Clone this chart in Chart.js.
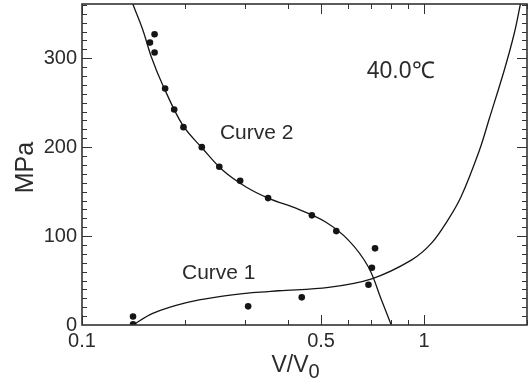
<!DOCTYPE html>
<html>
<head>
<meta charset="utf-8">
<script src="https://cdn.jsdelivr.net/npm/chart.js@4.4.1/dist/chart.umd.min.js"></script>
<style>
  html, body { margin: 0; padding: 0; background: #fff; }
  #wrap { width: 531px; height: 381px; }
</style>
</head>
<body>
<div id="wrap"><canvas id="chart"></canvas></div>
<script>
// Axis tick labels
const xTickValues = [0.1, 0.5, 1];
const yTickValues = [0, 100, 200, 300];

// Fitted curves (V/V0, MPa)
const curve1X = [0.141, 0.161, 0.202, 0.252, 0.315, 0.376, 0.526, 0.703, 0.918, 1.05, 1.174, 1.283, 1.452, 1.552, 1.716, 1.835, 1.91, 1.93];
const curve1Y = [0, 13.1, 25.1, 31.8, 36.3, 38.5, 42.4, 52, 73, 91.8, 118, 144.2, 196.6, 232.2, 286.5, 327.8, 359.6, 368];
const curve2X = [0.139, 0.1409, 0.1507, 0.1595, 0.1723, 0.197, 0.2252, 0.2575, 0.301, 0.350, 0.430, 0.514, 0.601, 0.687, 0.751, 0.802];
const curve2Y = [368, 360.7, 331.5, 301.5, 269.7, 224.7, 198.5, 174.2, 155.4, 142.7, 130, 116.1, 95.5, 65.5, 28.1, 0];

// Measured points
const upperDotsX = [0.163, 0.158, 0.163, 0.175, 0.186, 0.198, 0.224, 0.252, 0.290, 0.350, 0.470, 0.554, 0.704];
const upperDotsY = [327, 317.6, 306.4, 266, 242.4, 222.5, 200, 177.9, 162.1, 142.7, 123.3, 105.6, 64.4];
const lowerDotsX = [0.141, 0.141, 0.306, 0.439, 0.688, 0.719];
const lowerDotsY = [0.8, 9.6, 21, 31.1, 45.3, 86.2];

const pairs = (xs, ys) => xs.map((x, i) => ({ x, y: ys[i] }));

const INK = '#151515';
const TEXT = '#2b2b2b';
const FONT = "'Liberation Sans', Arial, Helvetica, sans-serif";

const lineStyle = {
  showLine: true, borderColor: INK, borderWidth: 1.3, pointRadius: 0,
  tension: 0.35, fill: false
};
const dotStyle = {
  showLine: false, pointRadius: 3.3, pointBackgroundColor: INK, pointBorderColor: INK, pointBorderWidth: 0
};

const noPad = s => { s.paddingTop = 0; s.paddingBottom = 0; s.paddingLeft = 0; s.paddingRight = 0; };

// Inward tick marks on all four sides, the plot frame and the text labels
const framePlugin = {
  id: 'frame',
  afterDatasetsDraw(chart) {
    const { ctx, chartArea: a, scales: { x, y } } = chart;
    ctx.save();
    ctx.strokeStyle = '#333';
    ctx.lineWidth = 1;
    ctx.beginPath();
    for (const decade of [0.1, 1]) {
      for (let k = 1; k <= 9; k++) {
        const v = +(k * decade).toFixed(3);
        if (v > 2) break;
        const px = Math.round(x.getPixelForValue(v)) + 0.5;
        const len = xTickValues.includes(v) ? 10 : 5;
        ctx.moveTo(px, a.bottom); ctx.lineTo(px, a.bottom - len);
        ctx.moveTo(px, a.top); ctx.lineTo(px, a.top + len);
      }
    }
    for (let v = 10; v < y.max; v += 10) {
      const py = Math.round(y.getPixelForValue(v)) + 0.5;
      const len = v % 100 === 0 ? 10 : 5;
      ctx.moveTo(a.left, py); ctx.lineTo(a.left + len, py);
      ctx.moveTo(a.right, py); ctx.lineTo(a.right - len, py);
    }
    ctx.stroke();
    ctx.lineWidth = 1.6;
    ctx.strokeRect(a.left, a.top, a.right - a.left, a.bottom - a.top);

    ctx.fillStyle = TEXT;
    ctx.textBaseline = 'middle';
    ctx.textAlign = 'left';
    ctx.font = `21px ${FONT}`;
    ctx.fillText('Curve 2', x.getPixelForValue(0.253), y.getPixelForValue(215.7));
    ctx.fillText('Curve 1', x.getPixelForValue(0.196), y.getPixelForValue(58));
    ctx.font = `23px ${FONT}`;
    ctx.fillText('40.0℃', x.getPixelForValue(0.68), y.getPixelForValue(285.4));

    // x-axis title with subscript
    ctx.textBaseline = 'alphabetic';
    ctx.font = `23px ${FONT}`;
    const main = 'V/V';
    const mw = ctx.measureText(main).width;
    ctx.font = `20px ${FONT}`;
    const sw = ctx.measureText('0').width;
    const cx = (a.left + a.right) / 2 - 9;
    const x0 = cx - (mw + sw) / 2;
    ctx.font = `23px ${FONT}`;
    ctx.fillText(main, x0, 372);
    ctx.font = `20px ${FONT}`;
    ctx.fillText('0', x0 + mw, 378);

    // y-axis title
    ctx.translate(26, (a.top + a.bottom) / 2 + 3);
    ctx.rotate(-Math.PI / 2);
    ctx.textAlign = 'center';
    ctx.textBaseline = 'middle';
    ctx.font = `25px ${FONT}`;
    ctx.fillText('MPa', 0, 0);
    ctx.restore();
  }
};

new Chart(document.getElementById('chart'), {
  type: 'scatter',
  data: {
    datasets: [
      { label: 'Curve 1', data: pairs(curve1X, curve1Y), ...lineStyle },
      { label: 'Curve 2', data: pairs(curve2X, curve2Y), ...lineStyle },
      { label: 'Points', data: pairs(upperDotsX, upperDotsY), ...dotStyle },
      { label: 'Points 2', data: pairs(lowerDotsX, lowerDotsY), ...dotStyle }
    ]
  },
  options: {
    responsive: true,
    maintainAspectRatio: false,
    animation: false,
    events: [],
    layout: { padding: { top: 4, right: 1, left: 0, bottom: 0 } },
    plugins: { legend: { display: false }, tooltip: { enabled: false } },
    scales: {
      x: {
        type: 'logarithmic',
        min: 0.1, max: 2,
        afterBuildTicks: s => { s.ticks = xTickValues.map(v => ({ value: v })); },
        afterFit: s => { s.height = 56; noPad(s); },
        grid: { display: false, drawTicks: false },
        border: { display: false },
        ticks: {
          color: TEXT, font: { family: FONT, size: 20 }, padding: 4,
          maxRotation: 0, autoSkip: false,
          callback: v => String(v)
        }
      },
      y: {
        type: 'linear',
        min: 0, max: 361,
        afterBuildTicks: s => { s.ticks = yTickValues.map(v => ({ value: v })); },
        afterFit: s => { s.width = 82; noPad(s); },
        grid: { display: false, drawTicks: false },
        border: { display: false },
        ticks: {
          color: TEXT, font: { family: FONT, size: 20 }, padding: 5,
          callback: v => String(v)
        }
      }
    }
  },
  plugins: [framePlugin]
});
</script>
</body>
</html>
